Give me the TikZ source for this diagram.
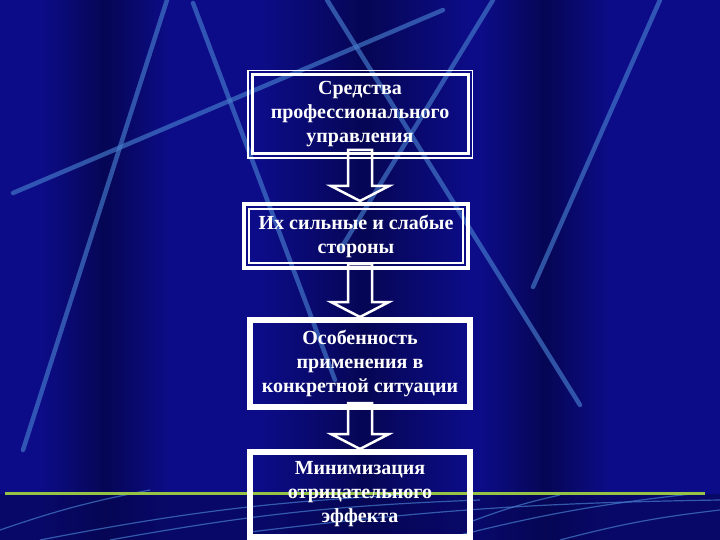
\documentclass[tikz,border=0pt]{standalone}
\usepackage{fontspec}
\setmainfont{Liberation Serif}
\usetikzlibrary{calc}
\definecolor{bgblue}{RGB}{12,12,136}
\definecolor{beamdark}{RGB}{6,6,85}
\definecolor{streak}{RGB}{70,125,205}
\definecolor{horizon}{RGB}{150,195,70}

\begin{document}
\begin{tikzpicture}[x=1pt,y=-1pt,
  box/.style={draw=white,line width=6pt,minimum width=220pt,inner sep=0pt,outer sep=0pt,
    text=white,align=center,font=\bfseries\fontsize{20}{24}\selectfont},
  ray/.style={streak,line width=4.5pt,opacity=0.65,line cap=round},
  floor/.style={streak,line width=1.2pt,opacity=0.7},
  blockarr/.style={draw=white,line width=2.5pt}]
  \useasboundingbox (0,0) rectangle (720,540);
  \fill[bgblue] (0,0) rectangle (720,540);
  \shade[left color=bgblue,right color=bgblue,middle color=beamdark] (40,0) rectangle (170,540);
  \shade[left color=bgblue,right color=bgblue,middle color=beamdark] (260,0) rectangle (470,540);
  \shade[left color=bgblue,right color=bgblue,middle color=beamdark] (480,0) rectangle (610,540);
  \fill[beamdark,opacity=0.6] (0,494) rectangle (720,540);

  \draw[ray] (13,193) -- (443,10);
  \draw[ray] (167,0) -- (23,450);
  \draw[ray] (193,3) -- (335,380);
  \draw[ray] (327,0) -- (580,405);
  \draw[ray] (493,0) -- (340,250);
  \draw[ray] (660,0) -- (533,287);

  \draw[floor] (0,530) to[bend left=4] (150,490);
  \draw[floor] (40,540) to[bend left=4] (420,494);
  \draw[floor] (110,540) to[bend left=4] (480,500);
  \draw[floor] (250,532) to[bend left=3] (720,500);
  \draw[floor] (440,540) to[bend left=4] (700,493);
  \draw[floor] (470,522) to[bend left=4] (560,495);
  \draw[floor] (560,540) to[bend left=4] (720,510);
  \draw[horizon,line width=3pt] (5,493) -- (705,493);

  \coordinate (spine) at (360,0);
  \node[box,line width=3pt,minimum width=216pt,minimum height=79pt] (tools) at (360,114.5)
    {Средства\\профессионального\\управления};
  \draw[white,line width=1.5pt] ($(tools.north west)+(-4.25,-4.25)$) rectangle ($(tools.south east)+(4.25,4.25)$);
  \node[box,line width=4pt,minimum width=224pt,minimum height=64pt] (sides) at (356,236)
    {Их сильные и слабые\\стороны};
  \draw[white,line width=1.5pt] ($(sides.north west)+(5,5)$) rectangle ($(sides.south east)+(-5,-5)$);
  \node[box,minimum height=87pt] (usage) at (360,363.5)
    {Особенность\\применения в\\конкретной ситуации};
  \node[box,minimum height=85pt] (minim) at (360,494.5)
    {Минимизация\\отрицательного\\эффекта};

  \foreach \a/\b in {tools/sides,sides/usage,usage/minim}
    \draw[blockarr] ($(\a.south -| spine)+(-12,-4)$) -- ($(\b.north -| spine)+(-12,-18)$) -- ++(-17,0)
      -- ($(\b.north -| spine)+(0,-3)$) -- ++(29,-15) -- ++(-17,0) -- ($(\a.south -| spine)+(12,-4)$) -- cycle;
\end{tikzpicture}
\end{document}
